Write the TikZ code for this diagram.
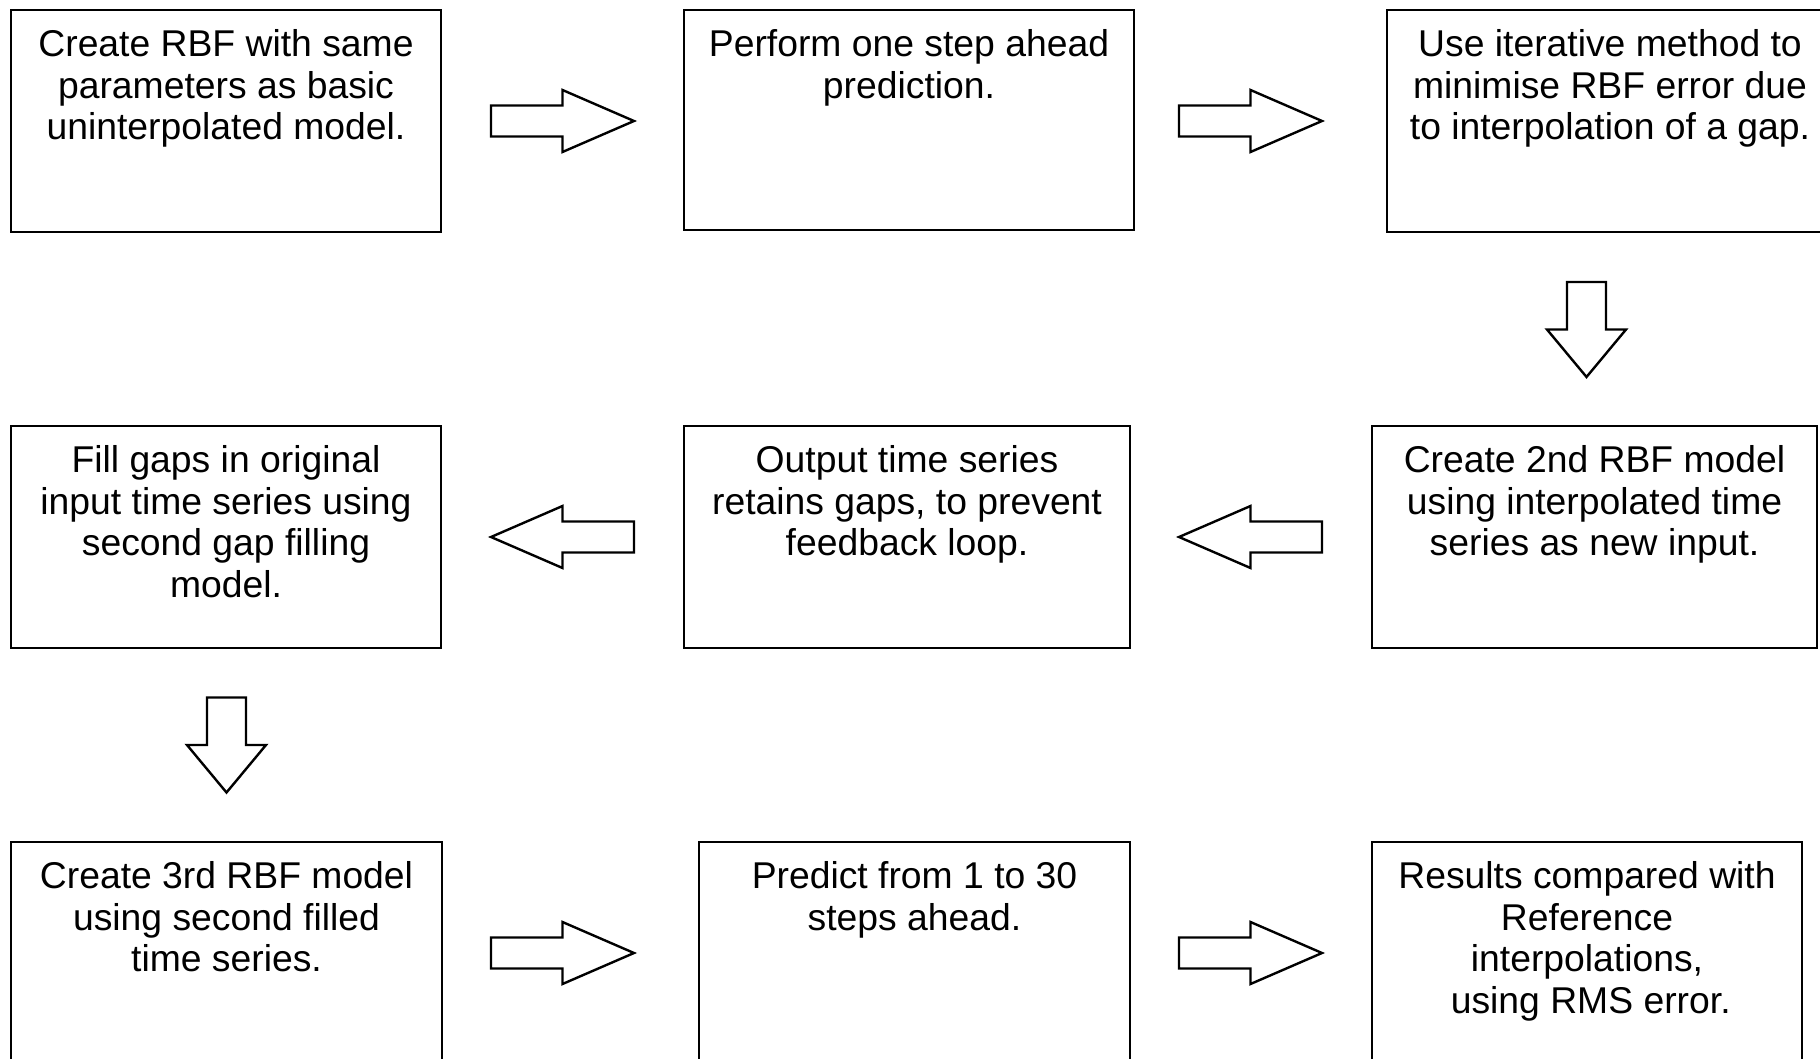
\documentclass[tikz,border=0pt]{standalone}
\usepackage{fontspec}
\setmainfont{Liberation Sans}
\usetikzlibrary{calc}

\tikzset{
  box/.style={draw, line width=1.1pt, anchor=north west, inner sep=0pt, outer sep=0pt},
  txt/.style={anchor=north, align=center, inner sep=0pt, outer sep=0pt,
              font=\fontsize{18.65pt}{20.9pt}\selectfont},
  arrowline/.style={draw, fill=white, line width=1.2pt, line join=miter},
  % horizontal block arrow, pointing right, centred on the pic origin
  hblock/.pic={
    \path[arrowline] (-71.5,-15.5) -- (0,-15.5) -- (0,-31) -- (71.5,0)
      -- (0,31) -- (0,15.5) -- (-71.5,15.5) -- cycle;
  },
  % vertical block arrow, pointing down (y grows downward)
  vblock/.pic={
    \path[arrowline] (-19.5,-47.5) -- (19.5,-47.5) -- (19.5,0) -- (39.5,0)
      -- (0,47.5) -- (-39.5,0) -- (-19.5,0) -- cycle;
  },
}

\begin{document}
\begin{tikzpicture}[x=0.5pt, y=-0.5pt]
\useasboundingbox (0,0) rectangle (1820,1059);
\clip (0,0) rectangle (1820,1059);

% ---- row 1 ----
\node[box, minimum width=215pt, minimum height=111pt] (b1) at (11,10) {};
\node[box, minimum width=225pt, minimum height=110pt] (b2) at (684,10) {};
\node[box, minimum width=223pt, minimum height=111pt] (b3) at (1387,10) {};

% ---- row 2 ----
\node[box, minimum width=215pt, minimum height=111pt] (b4) at (11,426) {};
\node[box, minimum width=223pt, minimum height=111pt] (b5) at (684,426) {};
\node[box, minimum width=222.5pt, minimum height=111pt] (b6) at (1372,426) {};

% ---- row 3 ----
\node[box, minimum width=215.5pt, minimum height=111pt] (b7) at (11,842) {};
\node[box, minimum width=215.5pt, minimum height=111pt] (b8) at (699,842) {};
\node[box, minimum width=215pt, minimum height=111pt] (b9) at (1372,842) {};

% ---- texts ----
\node[txt] (t1) at ($(b1.north)+(0,17)$) {\strut Create RBF with same\\parameters as basic\\uninterpolated model.};
\node[txt] (t2) at ($(b2.north)+(0,17)$) {\strut Perform one step ahead\\prediction.};
\node[txt] (t3) at ($(b3.north)+(0,17)$) {\strut Use iterative method to\\minimise RBF error due\\to interpolation of a gap.};
\node[txt] (t4) at ($(b4.north)+(0,17)$) {\strut Fill gaps in original\\input time series using\\second gap filling\\model.};
\node[txt] (t5) at ($(b5.north)+(0,17)$) {\strut Output time series\\retains gaps, to prevent\\feedback loop.};
\node[txt] (t6) at ($(b6.north)+(0,17)$) {\strut Create 2nd RBF model\\using interpolated time\\series as new input.};
\node[txt] (t7) at ($(b7.north)+(0,17)$) {\strut Create 3rd RBF model\\using second filled\\time series.};
\node[txt] (t8) at ($(b8.north)+(0,17)$) {\strut Predict from 1 to 30\\steps ahead.};
\node[txt] (t9) at ($(b9.north)+(0,17)$) {\strut Results compared with\\Reference\\interpolations,\\\hspace*{0.2em}using RMS error.};

% ---- block arrows ----
\pic (a12) at (562.5,121) {hblock};
\pic (a23) at (1250.5,121) {hblock};
\pic (a36) at (1586.5,329.5) {vblock};
\pic[rotate=180] (a65) at (1250.5,537) {hblock};
\pic[rotate=180] (a54) at (562.5,537) {hblock};
\pic (a47) at (226.5,745) {vblock};
\pic (a78) at (562.5,953) {hblock};
\pic (a89) at (1250.5,953) {hblock};
\end{tikzpicture}
\end{document}
